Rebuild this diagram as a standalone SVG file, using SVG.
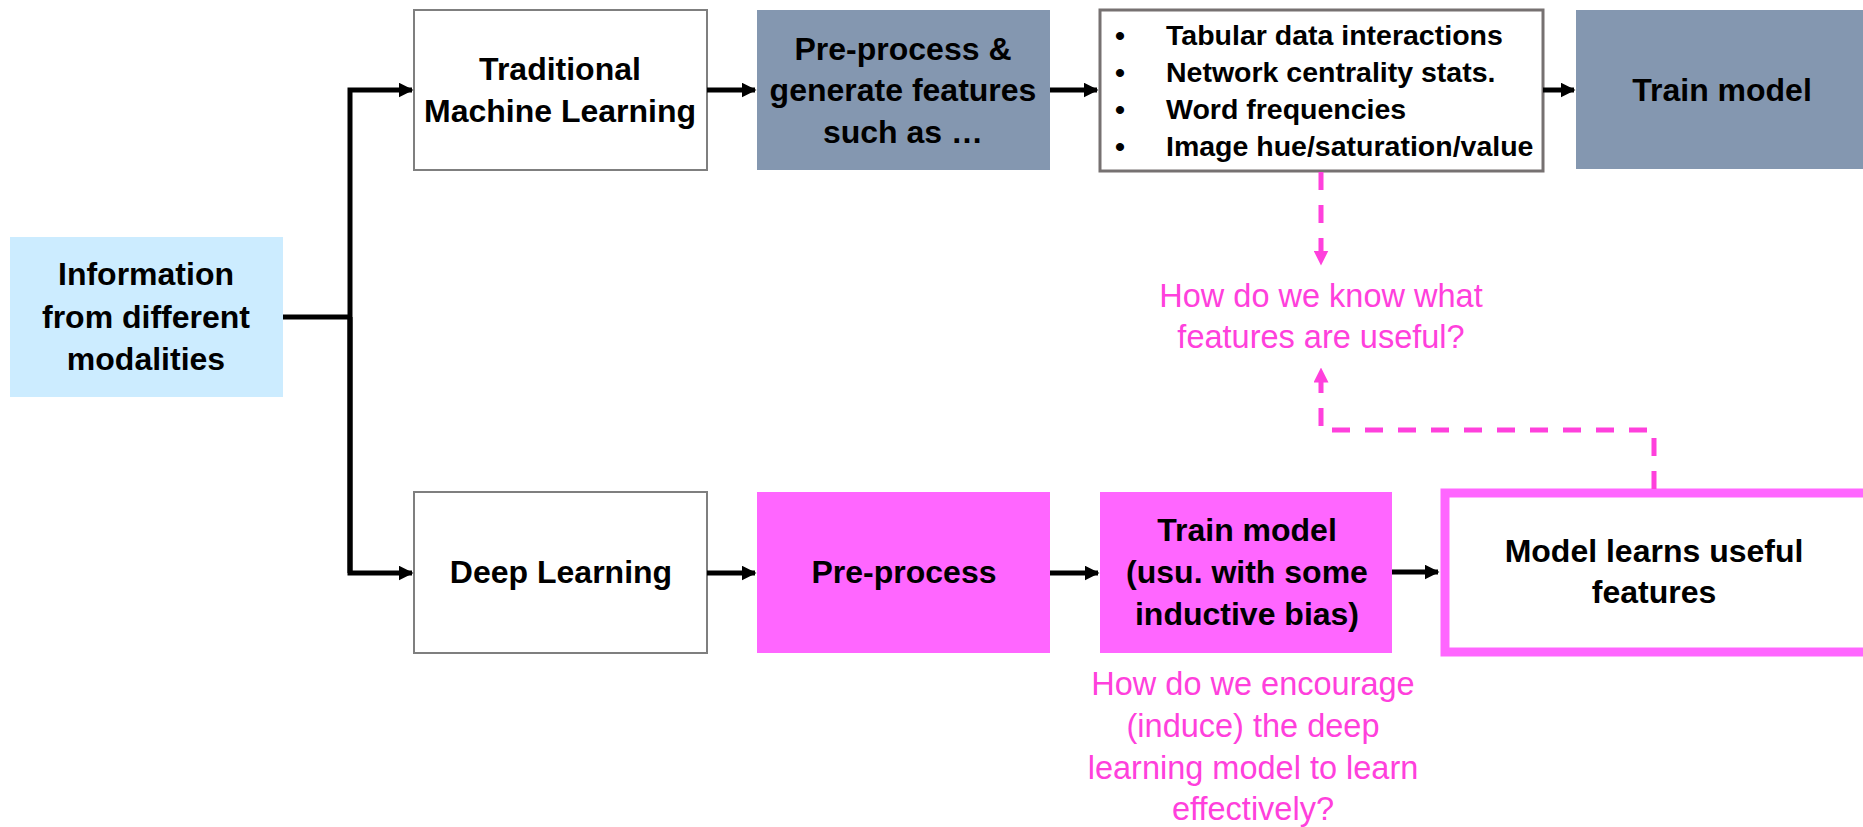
<svg xmlns="http://www.w3.org/2000/svg" width="1863" height="827" viewBox="0 0 1863 827">
<defs>
<style>
.t{font-family:"Liberation Sans",Arial,sans-serif;font-weight:bold;font-size:32px;fill:#000;text-anchor:middle}
.b{font-family:"Liberation Sans",Arial,sans-serif;font-weight:bold;font-size:28.5px;fill:#000}
.p{font-family:"Liberation Sans",Arial,sans-serif;font-size:32.5px;fill:#FF40DC;text-anchor:middle}
.wbox{fill:#fff;stroke:#7f7f7f;stroke-width:2}
.gbox{fill:#8497B0}
.mbox{fill:#FF66FF}
.con{fill:none;stroke:#000;stroke-width:5}
.dash{fill:none;stroke:#FF40DC;stroke-width:5;stroke-dasharray:18 15}
</style>
<marker id="ah" viewBox="0 0 10 10" refX="9" refY="5" markerWidth="3" markerHeight="3" orient="auto" markerUnits="strokeWidth"><path d="M0,0 L10,5 L0,10 z" fill="#000"/></marker>
<marker id="ap" viewBox="0 0 10 10" refX="9" refY="5" markerWidth="3" markerHeight="3" orient="auto" markerUnits="strokeWidth"><path d="M0,0 L10,5 L0,10 z" fill="#FF40DC"/></marker>
</defs>
<rect width="1863" height="827" fill="#fff"/>

<g id="info">
<rect x="10" y="237" width="273" height="160" fill="#CCECFF"/>
<text class="t" x="146" y="285">Information</text>
<text class="t" x="146" y="328">from different</text>
<text class="t" x="146" y="370">modalities</text>
</g>

<g id="tml">
<rect class="wbox" x="414" y="10" width="293" height="160"/>
<text class="t" x="560" y="80">Traditional</text>
<text class="t" x="560" y="122">Machine Learning</text>
</g>

<g id="preproc-top">
<rect class="gbox" x="757" y="10" width="293" height="160"/>
<text class="t" x="903" y="60">Pre-process &amp;</text>
<text class="t" x="903" y="101">generate features</text>
<text class="t" x="903" y="143">such as …</text>
</g>

<g id="features">
<rect x="1100" y="10" width="443" height="161" fill="#fff" stroke="#767171" stroke-width="3"/>
<text class="b" x="1115" y="45">•</text>
<text class="b" x="1166" y="45">Tabular data interactions</text>
<text class="b" x="1115" y="82">•</text>
<text class="b" x="1166" y="82">Network centrality stats.</text>
<text class="b" x="1115" y="119">•</text>
<text class="b" x="1166" y="119">Word frequencies</text>
<text class="b" x="1115" y="156">•</text>
<text class="b" x="1166" y="156">Image hue/saturation/value</text>
</g>

<g id="train-top">
<rect class="gbox" x="1576" y="10" width="300" height="159"/>
<text class="t" x="1722" y="101">Train model</text>
</g>

<g id="dl">
<rect class="wbox" x="414" y="492" width="293" height="161"/>
<text class="t" x="561" y="583">Deep Learning</text>
</g>

<g id="preproc-bottom">
<rect class="mbox" x="757" y="492" width="293" height="161"/>
<text class="t" x="904" y="583">Pre-process</text>
</g>

<g id="train-bottom">
<rect class="mbox" x="1100" y="492" width="292" height="161"/>
<text class="t" x="1247" y="541">Train model</text>
<text class="t" x="1247" y="583">(usu. with some</text>
<text class="t" x="1247" y="625">inductive bias)</text>
</g>

<g id="learns">
<rect x="1445" y="493" width="425" height="159" fill="#fff" stroke="#FF66FF" stroke-width="9"/>
<text class="t" x="1654" y="562">Model learns useful</text>
<text class="t" x="1654" y="603">features</text>
</g>

<g id="q1">
<text class="p" x="1321" y="307">How do we know what</text>
<text class="p" x="1321" y="348">features are useful?</text>
</g>

<g id="q2">
<text class="p" x="1253" y="695">How do we encourage</text>
<text class="p" x="1253" y="737">(induce) the deep</text>
<text class="p" x="1253" y="779">learning model to learn</text>
<text class="p" x="1253" y="820">effectively?</text>
</g>

<g id="connectors">
<path class="con" d="M283,317 H350"/>
<path class="con" d="M350,573 V90 H412" marker-end="url(#ah)"/>
<path class="con" d="M350,317 V573 H412" marker-end="url(#ah)"/>
<path class="con" d="M707,90 H755" marker-end="url(#ah)"/>
<path class="con" d="M1050,90 H1097" marker-end="url(#ah)"/>
<path class="con" d="M1543,90 H1574" marker-end="url(#ah)"/>
<path class="con" d="M707,573 H755" marker-end="url(#ah)"/>
<path class="con" d="M1050,573 H1098" marker-end="url(#ah)"/>
<path class="con" d="M1392,572 H1438" marker-end="url(#ah)"/>
<path class="dash" d="M1321,172 V264" marker-end="url(#ap)"/>
<path class="dash" d="M1654,489 V430 H1321 V369" marker-end="url(#ap)"/>
</g>
</svg>
